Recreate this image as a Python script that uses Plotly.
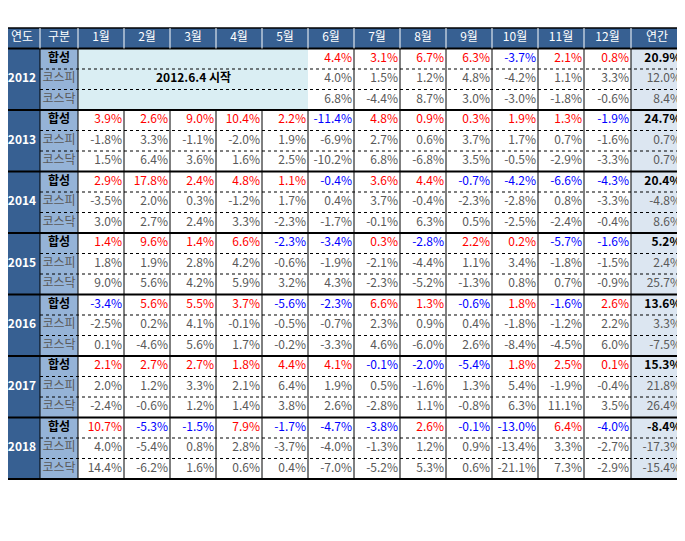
import plotly.graph_objects as go

# -------------------------
# Data
# -------------------------
YEARS = ["2012", "2013", "2014", "2015", "2016", "2017", "2018"]
MONTHS = ["1월", "2월", "3월", "4월", "5월", "6월", "7월", "8월", "9월", "10월", "11월", "12월"]
ROW_LABELS = ["합성", "코스피", "코스닥"]

# monthly returns (%), None = before start
HAPSEONG = [
    [None, None, None, None, None, 4.4, 3.1, 6.7, 6.3, -3.7, 2.1, 0.8],
    [3.9, 2.6, 9.0, 10.4, 2.2, -11.4, 4.8, 0.9, 0.3, 1.9, 1.3, -1.9],
    [2.9, 17.8, 2.4, 4.8, 1.1, -0.4, 3.6, 4.4, -0.7, -4.2, -6.6, -4.3],
    [1.4, 9.6, 1.4, 6.6, -2.3, -3.4, 0.3, -2.8, 2.2, 0.2, -5.7, -1.6],
    [-3.4, 5.6, 5.5, 3.7, -5.6, -2.3, 6.6, 1.3, -0.6, 1.8, -1.6, 2.6],
    [2.1, 2.7, 2.7, 1.8, 4.4, 4.1, -0.1, -2.0, -5.4, 1.8, 2.5, 0.1],
    [10.7, -5.3, -1.5, 7.9, -1.7, -4.7, -3.8, 2.6, -0.1, -13.0, 6.4, -4.0],
]
KOSPI = [
    [None, None, None, None, None, 4.0, 1.5, 1.2, 4.8, -4.2, 1.1, 3.3],
    [-1.8, 3.3, -1.1, -2.0, 1.9, -6.9, 2.7, 0.6, 3.7, 1.7, 0.7, -1.6],
    [-3.5, 2.0, 0.3, -1.2, 1.7, 0.4, 3.7, -0.4, -2.3, -2.8, 0.8, -3.3],
    [1.8, 1.9, 2.8, 4.2, -0.6, -1.9, -2.1, -4.4, 1.1, 3.4, -1.8, -1.5],
    [-2.5, 0.2, 4.1, -0.1, -0.5, -0.7, 2.3, 0.9, 0.4, -1.8, -1.2, 2.2],
    [2.0, 1.2, 3.3, 2.1, 6.4, 1.9, 0.5, -1.6, 1.3, 5.4, -1.9, -0.4],
    [4.0, -5.4, 0.8, 2.8, -3.7, -4.0, -1.3, 1.2, 0.9, -13.4, 3.3, -2.7],
]
KOSDAQ = [
    [None, None, None, None, None, 6.8, -4.4, 8.7, 3.0, -3.0, -1.8, -0.6],
    [1.5, 6.4, 3.6, 1.6, 2.5, -10.2, 6.8, -6.8, 3.5, -0.5, -2.9, -3.3],
    [3.0, 2.7, 2.4, 3.3, -2.3, -1.7, -0.1, 6.3, 0.5, -2.5, -2.4, -0.4],
    [9.0, 5.6, 4.2, 5.9, 3.2, 4.3, -2.3, -5.2, -1.3, 0.8, 0.7, -0.9],
    [0.1, -4.6, 5.6, 1.7, -0.2, -3.3, 4.6, -6.0, 2.6, -8.4, -4.5, 6.0],
    [-2.4, -0.6, 1.2, 1.4, 3.8, 2.6, -2.8, 1.1, -0.8, 6.3, 11.1, 3.5],
    [14.4, -6.2, 1.6, 0.6, 0.4, -7.0, -5.2, 5.3, 0.6, -21.1, 7.3, -2.9],
]
ANNUAL_HAPSEONG = [20.9, 24.7, 20.4, 5.2, 13.6, 15.3, -8.4]
ANNUAL_KOSPI = [12.0, 0.7, -4.8, 2.4, 3.3, 21.8, -17.3]
ANNUAL_KOSDAQ = [8.4, 0.7, 8.6, 25.7, -7.5, 26.4, -15.4]

TITLE = "[표] 합성전략 월별수익률"
NOTES = ["(자료: 아이투자 퀀트클럽)",
         "* 매월 마지막 거래일 기준가를 비교한 수익률",
         "예) 2013.12월 월별수익률 = 12.30 기준가 / 11.29 기준가 -1"]

# -------------------------
# Layout config (pixels of the window)
# -------------------------
FONT = "Noto Sans CJK KR"
PAGE_OFF = 8  # browser body margin
COL_EDGES = [4, 40, 78] + [78 + 46 * (i + 1) for i in range(11)] + [631, 683]
TOP, HDR_H, ROW_H = 28, 20.5, 20.5
HDR_BG, LBL_BG, ANN_BG, START_BG = "#376092", "#95B3D7", "#DCE6F1", "#DAEEF3"
GRAY = "#595959"


def row_top(i):
    return TOP + HDR_H + i * ROW_H


def main():
    fig = go.Figure()
    shapes = []
    n_rows = len(YEARS) * 3
    bottom = row_top(n_rows)

    def rect(x0, x1, y0, y1, color):
        shapes.append(dict(type="rect", x0=x0, x1=x1, y0=y0, y1=y1,
                           fillcolor=color, line=dict(width=0), layer="below"))

    # backgrounds
    rect(COL_EDGES[0], COL_EDGES[-1], TOP, TOP + HDR_H, HDR_BG)
    rect(COL_EDGES[0], COL_EDGES[1], TOP + HDR_H, bottom, HDR_BG)
    rect(COL_EDGES[1], COL_EDGES[2], TOP + HDR_H, bottom, LBL_BG)
    rect(COL_EDGES[-2], COL_EDGES[-1], TOP + HDR_H, bottom, ANN_BG)
    rect(COL_EDGES[2], COL_EDGES[7], row_top(0), row_top(3), START_BG)

    # lines
    def line(x0, x1, y0, y1, w=1, dash="solid", color="black"):
        shapes.append(dict(type="line", x0=x0, x1=x1, y0=y0, y1=y1,
                           line=dict(width=w, dash=dash, color=color)))

    for r in range(n_rows):
        if r % 3 != 0:
            line(COL_EDGES[1], COL_EDGES[-1], row_top(r), row_top(r), 1, "dot")
    for k in range(len(YEARS) + 1):
        line(COL_EDGES[0], COL_EDGES[-1], row_top(3 * k), row_top(3 * k), 2)
    line(COL_EDGES[0], COL_EDGES[-1], TOP, TOP, 1.5)
    for j, x in enumerate(COL_EDGES):
        edge = j == 0 or j == len(COL_EDGES) - 1
        line(x, x, TOP, TOP + HDR_H, 1, color="black" if edge else "white")
        if 3 <= j <= 7:
            # merged start cell in 2012
            line(x, x, row_top(3), bottom, 1)
        else:
            line(x, x, TOP + HDR_H, bottom, 1)

    # header text
    hdr = ["연도", "구분"] + MONTHS + ["연간"]
    cx = [(COL_EDGES[i] + COL_EDGES[i + 1]) / 2 for i in range(len(COL_EDGES) - 1)]
    fig.add_trace(go.Scatter(x=cx, y=[TOP + HDR_H / 2] * len(hdr), text=hdr, mode="text",
                             textfont=dict(family=FONT, size=12, color="white")))

    # year + label text
    yc = [row_top(3 * k + 1) + ROW_H / 2 for k in range(len(YEARS))]
    fig.add_trace(go.Scatter(x=[cx[0]] * len(YEARS), y=yc, text=["<b>%s</b>" % y for y in YEARS],
                             mode="text", textfont=dict(family=FONT, size=12, color="white")))
    lx, ly, lt, lc = [], [], [], []
    for k in range(len(YEARS)):
        for r, lab in enumerate(ROW_LABELS):
            lx.append(cx[1])
            ly.append(row_top(3 * k + r) + ROW_H / 2)
            lt.append("<b>%s</b>" % lab if r == 0 else lab)
            lc.append("black" if r == 0 else GRAY)
    fig.add_trace(go.Scatter(x=lx, y=ly, text=lt, mode="text",
                             textfont=dict(family=FONT, size=12, color=lc)))

    # values
    vx, vy, vt, vc = [], [], [], []
    for k in range(len(YEARS)):
        for r, series in enumerate([HAPSEONG, KOSPI, KOSDAQ]):
            for m, v in enumerate(series[k]):
                if v is None:
                    continue
                vx.append(COL_EDGES[m + 3] - 2)
                vy.append(row_top(3 * k + r) + ROW_H / 2)
                vt.append("%.1f%%" % v)
                vc.append(("red" if v >= 0 else "blue") if r == 0 else GRAY)
    fig.add_trace(go.Scatter(x=vx, y=vy, text=vt, mode="text", textposition="middle left",
                             textfont=dict(family=FONT, size=12, color=vc)))

    ax, ay, at, ac = [], [], [], []
    for k in range(len(YEARS)):
        for r, series in enumerate([ANNUAL_HAPSEONG, ANNUAL_KOSPI, ANNUAL_KOSDAQ]):
            ax.append(COL_EDGES[-1] - 2)
            ay.append(row_top(3 * k + r) + ROW_H / 2)
            at.append("<b>%.1f%%</b>" % series[k] if r == 0 else "%.1f%%" % series[k])
            ac.append("black" if r == 0 else GRAY)
    fig.add_trace(go.Scatter(x=ax, y=ay, text=at, mode="text", textposition="middle left",
                             textfont=dict(family=FONT, size=12, color=ac)))

    annotations = [
        dict(x=(COL_EDGES[2] + COL_EDGES[7]) / 2, y=row_top(1) + ROW_H / 2 - 3, text="<b>2012.6.4 시작</b>",
             showarrow=False, font=dict(family=FONT, size=12, color="black")),
        dict(x=4, y=12, text="<b>" + TITLE + "</b>", xanchor="left", showarrow=False,
             font=dict(family=FONT, size=12, color="black")),
    ]
    for i, t in enumerate(NOTES):
        annotations.append(dict(x=4, y=bottom + 14 + i * 17, text=t, xanchor="left", showarrow=False,
                                font=dict(family=FONT, size=12, color="black")))

    fig.update_layout(
        width=685 - PAGE_OFF, height=541 - PAGE_OFF, margin=dict(l=0, r=0, t=0, b=0),
        plot_bgcolor="white", paper_bgcolor="white", showlegend=False,
        xaxis=dict(range=[PAGE_OFF, 685], visible=False, fixedrange=True),
        yaxis=dict(range=[541, PAGE_OFF], visible=False, fixedrange=True),
        shapes=shapes, annotations=annotations,
    )
    fig.write_html("out.html")


if __name__ == "__main__":
    main()
